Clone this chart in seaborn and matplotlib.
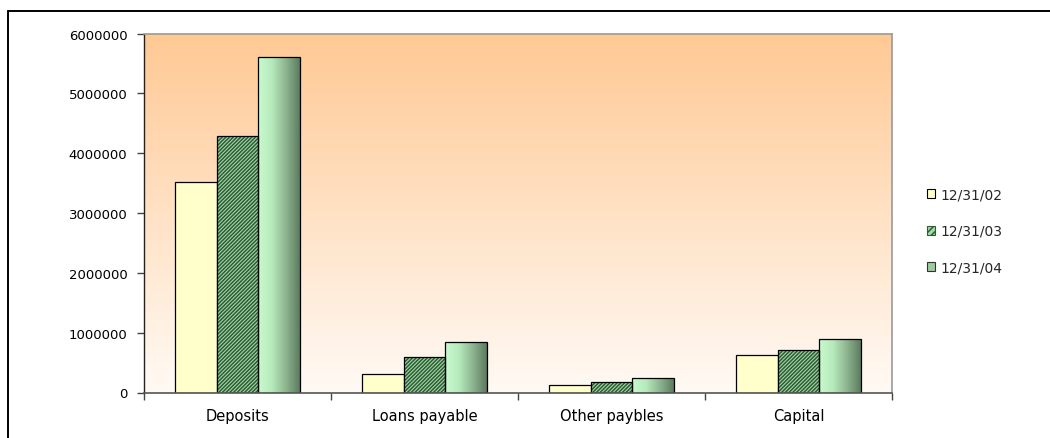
import numpy as np
import pandas as pd
import matplotlib
matplotlib.use("Agg")
import matplotlib.pyplot as plt
from matplotlib.patches import Patch, Rectangle
from matplotlib.lines import Line2D
from matplotlib.colors import LinearSegmentedColormap
import seaborn as sns

# Balance-sheet liabilities by reporting date
categories = ["Deposits", "Loans payable", "Other paybles", "Capital"]
dates = ["12/31/02", "12/31/03", "12/31/04"]
values_02 = [3520000, 305000, 117000, 624000]
values_03 = [4290000, 585000, 172000, 707000]
values_04 = [5600000, 845000, 250000, 891000]
y_ticks = [0, 1000000, 2000000, 3000000, 4000000, 5000000, 6000000]

df = pd.DataFrame({
    "category": categories * 3,
    "date": [dates[0]] * 4 + [dates[1]] * 4 + [dates[2]] * 4,
    "value": values_02 + values_03 + values_04,
})

sns.set_theme(style="white")
plt.rcParams["font.family"] = ["DejaVu Sans"]
plt.rcParams["hatch.linewidth"] = 1.1

yellow = "#FFFFCC"
hatch_light = "#A4D8A6"
hatch_dark = "#2E5C36"
hatch_str = "/" * 9
grad_cmap = LinearSegmentedColormap.from_list(
    "mint", ["#C8FACE", "#B6EABC", "#8DB490", "#5C7B5E"])
bg_cmap = LinearSegmentedColormap.from_list("peach", ["#FFFAF5", "#FFC994"])

fig = plt.figure(figsize=(10.5, 4.39), dpi=100)
ax = fig.add_axes([144 / 1050, 1 - 393.5 / 439, (892 - 144) / 1050, (393.5 - 34.5) / 439])

sns.barplot(data=df, x="category", y="value", hue="date", order=categories,
            hue_order=dates, palette=[yellow, hatch_light, "#A0D0A0"],
            width=2 / 3, gap=0, edgecolor="black", linewidth=0.9,
            saturation=1, legend=False, ax=ax, zorder=3)

# Plot-area background: vertical peach-to-white gradient
bg = np.linspace(0, 1, 256).reshape(-1, 1)
ax.imshow(bg, cmap=bg_cmap, origin="lower", extent=[0, 1, 0, 1],
          transform=ax.transAxes, aspect="auto", zorder=0)

# Second series: dense diagonal hatch under a black outline
for p in ax.containers[1]:
    x, y = p.get_x(), p.get_y()
    w, h = p.get_width(), p.get_height()
    p.set_facecolor(hatch_light)
    p.set_edgecolor(hatch_dark)
    p.set_hatch(hatch_str)
    p.set_linewidth(0)
    ax.add_patch(Rectangle((x, y), w, h, fill=False, edgecolor="black",
                           linewidth=0.9, zorder=4))

# Third series: horizontal light-to-dark green gradient fill
grad = np.linspace(0, 1, 256).reshape(1, -1)
for p in ax.containers[2]:
    x, y = p.get_x(), p.get_y()
    w, h = p.get_width(), p.get_height()
    im = ax.imshow(grad, cmap=grad_cmap, extent=[x, x + w, y, y + h],
                   aspect="auto", zorder=3.5)
    im.set_clip_path(p)
    p.set_facecolor("none")
    p.set_zorder(4)

ax.set_xlim(-0.5, len(categories) - 0.5)
ax.set_ylim(0, 6000000)
ax.set_aspect("auto")
ax.set_yticks(y_ticks)
ax.set_yticklabels([str(v) for v in y_ticks], fontsize=9.5, color="black")
ax.set_xticks(range(len(categories)))
ax.set_xticklabels(categories, fontsize=10.5, color="black")
ax.set_xticks(np.arange(-0.5, len(categories)), minor=True)
ax.set_xlabel("")
ax.set_ylabel("")

ax.tick_params(axis="x", which="major", length=0, pad=11)
ax.tick_params(axis="x", which="minor", length=5, width=1, color="#444444",
               direction="out", bottom=True)
ax.tick_params(axis="y", length=5, width=1, color="#444444", direction="out",
               pad=7, left=True)

for side in ["top", "right"]:
    ax.spines[side].set_visible(True)
    ax.spines[side].set_color("#9A9A9A")
    ax.spines[side].set_linewidth(1.2)
ax.spines["left"].set_color("#222222")
ax.spines["left"].set_linewidth(1.0)
ax.spines["bottom"].set_color("#555555")
ax.spines["bottom"].set_linewidth(1.2)
for s in ax.spines.values():
    s.set_zorder(6)

handles = [
    Patch(facecolor=yellow, edgecolor="black", linewidth=0.8),
    Patch(facecolor=hatch_light, edgecolor=hatch_dark, hatch="/////", linewidth=0.8),
    Patch(facecolor="#9CCB9E", edgecolor="#333333", linewidth=0.8),
]
fig.legend(handles, dates, loc="center left",
           bbox_to_anchor=(927 / 1050, 1 - 232 / 439), frameon=False,
           fontsize=10, handlelength=0.6, handleheight=0.6,
           handletextpad=0.4, labelspacing=1.6, borderpad=0, borderaxespad=0)

# Chart frame (top and left edges)
fig.add_artist(Line2D([8 / 1050, 8 / 1050], [0, 1 - 12 / 439],
                      transform=fig.transFigure, color="black", linewidth=1.4))
fig.add_artist(Line2D([8 / 1050, 1], [1 - 12 / 439, 1 - 12 / 439],
                      transform=fig.transFigure, color="black", linewidth=1.4))

fig.savefig("out.png", dpi=100, facecolor="white")
